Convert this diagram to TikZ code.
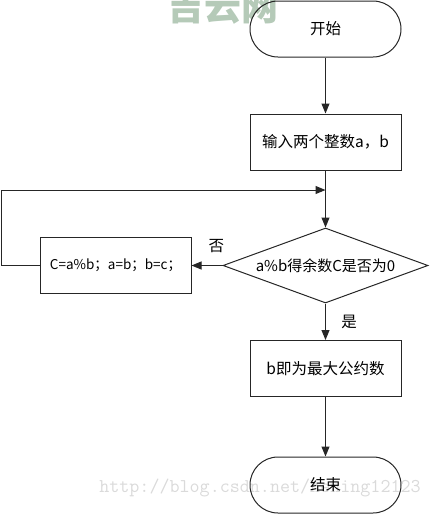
\documentclass[tikz,border=0pt]{standalone}
\usepackage{fontspec}
\setmainfont{Noto Sans CJK SC}
\usetikzlibrary{shapes.geometric,arrows.meta}
\definecolor{wmgreen}{RGB}{181,202,184}
\definecolor{wmgray}{RGB}{218,218,218}

\begin{document}
\begin{tikzpicture}
          [x=1pt, y=1pt,
          font=\fontsize{15.5}{18}\selectfont,
          term/.style={shape=rectangle,rounded corners=28pt,draw=black!85,minimum width=151pt,minimum height=56pt,line width=1pt},
          proc/.style={shape=rectangle,draw=black!85,minimum width=151pt,minimum height=56pt,line width=1pt},
          test/.style={shape=diamond,draw=black!85,aspect=2.76,inner sep=0pt,minimum width=205pt,minimum height=75pt,line width=1pt},
          arc/.style={->,>={Triangle[length=10pt,width=8pt]},draw=black!85,line width=1pt},
          wmark/.style={inner sep=0pt}]

            \useasboundingbox (0,0) rectangle (431,-515);

            % watermarks
            \node (site) [wmark,anchor=base,text=wmgreen,font=\bfseries\fontsize{37}{40}\selectfont] at (223,-20) {吉云网};
            \node (url) [wmark,text=wmgray,font=\ttfamily\fontsize{19.5}{20}\selectfont] at (260,-488) {http://blog.csdn.net/hening12123};

            \node (start) [term] at (325.5,-29) {开始};
            \node (input) [proc] at (325.5,-142) {输入两个整数a，b};
            \node (cond) [test,font=\fontsize{15}{18}\selectfont] at (325.5,-265.5) {a\%b得余数C是否为0};
            \node (loop) [proc,font=\fontsize{13.5}{18}\selectfont] at (115.5,-265.5) {C=a\%b；a=b；b=c；};
            \node (gcd) [proc] at (325.5,-368.5) {b即为最大公约数};
            \node (end) [term] at (325.5,-485) {结束};
            \coordinate (join) at (325.5,-190);
            \coordinate (corner) at (1,-190);

          \draw [arc] (start) -- (input);
          \draw [arc] (input) -- (cond);
          \draw [arc] (cond.west) -- node [pos=0.2,above=9pt] (no) {否} (loop.east);
          \draw [arc] (loop.west) -| (corner) -- (join);
          \draw [arc] (cond) -- node [right=12pt] (yes) {是} (gcd);
          \draw [arc] (gcd) -- (end);

        \end{tikzpicture}
\end{document}
